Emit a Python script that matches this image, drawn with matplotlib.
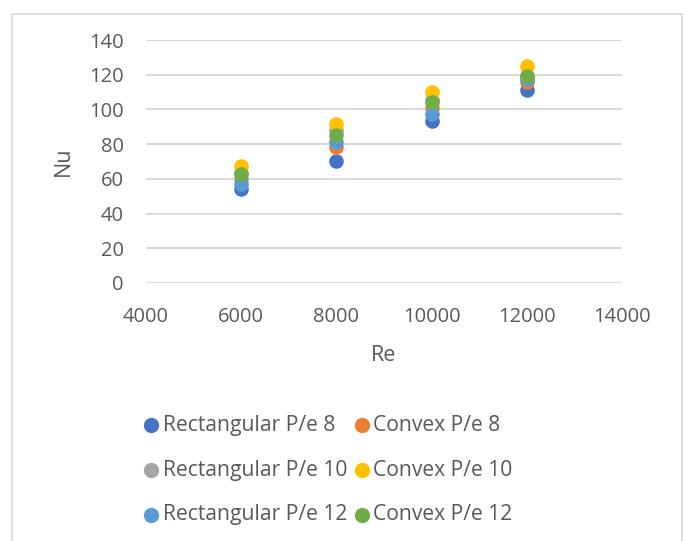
import matplotlib.pyplot as plt
from matplotlib.patches import Rectangle

plt.rcParams['font.family'] = ['Open Sans', 'DejaVu Sans']

re = [6000, 8000, 10000, 12000]
rect_8 = [54, 70.5, 93.5, 111]
convex_8 = [63.5, 78.5, 101, 116]
rect_10 = [60, 88, 105.5, 119.5]
convex_10 = [67.5, 91.5, 110, 125]
rect_12 = [57, 81, 97.5, 117.5]
convex_12 = [63, 85.5, 104, 119.5]

series = [
    ("Rectangular P/e 8", rect_8, "#4472C4"),
    ("Convex P/e 8", convex_8, "#ED7D31"),
    ("Rectangular P/e 10", rect_10, "#A5A5A5"),
    ("Convex P/e 10", convex_10, "#FFC000"),
    ("Rectangular P/e 12", rect_12, "#5B9BD5"),
    ("Convex P/e 12", convex_12, "#70AD47"),
]

txt = "#595959"
fig = plt.figure(figsize=(6.86, 5.41), dpi=100)
fig.patches.append(Rectangle((12 / 686, -0.01), (682 - 12) / 686, 1 - 14 / 541 + 0.01,
                             transform=fig.transFigure, fill=False,
                             edgecolor="#d9d9d9", linewidth=1.2))
ax = fig.add_axes([146 / 686, 1 - 283 / 541, (622 - 146) / 686, (283 - 40) / 541])

for name, vals, col in series:
    ax.scatter(re, vals, s=110, color=col, label=name, zorder=3, linewidths=0)

ax.set_xlim(4000, 14000)
ax.set_ylim(0, 140)
ax.set_xticks(range(4000, 14001, 2000))
ax.set_yticks(range(0, 141, 20))
ax.grid(axis="y", color="#d9d9d9", linewidth=1.4, zorder=0)
for s in ax.spines.values():
    s.set_visible(False)
ax.tick_params(length=0, labelsize=14.5, colors=txt)
ax.tick_params(axis="x", pad=17)
ax.tick_params(axis="y", pad=16)
ax.set_xlabel("Re", fontsize=15.5, color=txt, labelpad=13)
ax.set_ylabel("Nu", fontsize=15.5, color=txt, labelpad=11)

order = [0, 2, 4, 1, 3, 5]
h, l = ax.get_legend_handles_labels()
leg = fig.legend([h[i] for i in order], [l[i] for i in order], ncol=2,
                 loc="upper left", bbox_to_anchor=(111 / 686, 1 - 396 / 541),
                 frameon=False, fontsize=15.2, handletextpad=-0.45,
                 columnspacing=-0.32, labelspacing=1.12, markerscale=1.05)
for t in leg.get_texts():
    t.set_color(txt)

fig.savefig("out.png", dpi=100)
